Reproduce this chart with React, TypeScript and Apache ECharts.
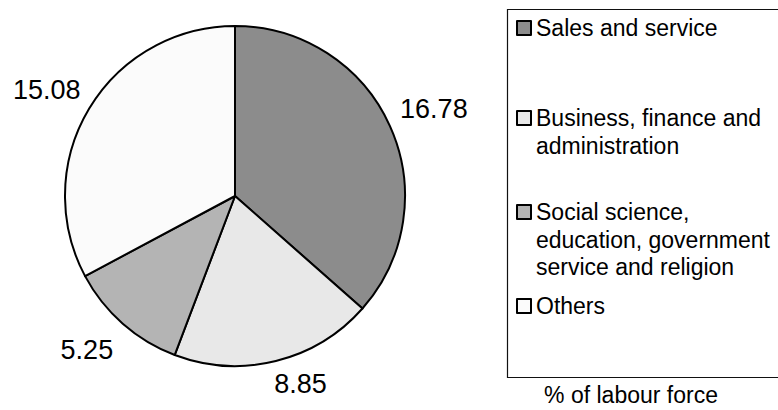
import React, { useEffect, useRef } from "react";
import * as echarts from "echarts";

const categories = [
  "Sales and service",
  "Business, finance and administration",
  "Social science, education, government service and religion",
  "Others",
];
const legendLines = [
  ["Sales and service"],
  ["Business, finance and", "administration"],
  ["Social science,", "education, government", "service and religion"],
  ["Others"],
];
const values = [16.78, 8.85, 5.25, 15.08];
const colors = ["#8c8c8c", "#e8e8e8", "#b4b4b4", "#fbfbfb"];
const labelOffsets: [number, number][] = [
  [-4, -12.5],
  [-9, 13],
  [2, 19],
  [5, -13.5],
];
const legendCenters = [28, 118, 212, 306];
const unitLabel = "% of labour force";

const FONT = "'Liberation Sans', Arial, sans-serif";
const LH = 27.5;

export default function App() {
  const ref = useRef<HTMLDivElement>(null);
  useEffect(() => {
    document.body.style.margin = "0";
    const chart = echarts.init(ref.current!, null, { renderer: "svg" });
    const legends = categories.map((name, i) => {
      const n = legendLines[i].length;
      return {
        orient: "vertical",
        left: 516,
        top: legendCenters[i] - (2 * n - 1) * (LH / 2),
        data: [name],
        icon: "rect",
        itemWidth: 14,
        itemHeight: 14,
        itemGap: 0,
        padding: 0,
        selectedMode: false,
        formatter: () => "\n".repeat(n - 1) + legendLines[i].join("\n"),
        textStyle: {
          fontFamily: FONT,
          fontSize: 23,
          color: "#000",
          lineHeight: LH,
        },
        itemStyle: { borderColor: "#000", borderWidth: 2 },
      };
    });
    chart.setOption({
      animation: false,
      backgroundColor: "#fff",
      color: colors,
      legend: legends,
      graphic: [
        {
          type: "rect",
          shape: { x: 507.5, y: 9.5, width: 320, height: 368 },
          style: { fill: "none", stroke: "#111", lineWidth: 1.2 },
        },
        {
          type: "text",
          x: 631,
          y: 395,
          style: {
            text: unitLabel,
            fontFamily: FONT,
            fontSize: 23,
            fill: "#000",
            align: "center",
            verticalAlign: "middle",
          },
        },
      ],
      series: [
        {
          type: "pie",
          center: [235, 196],
          radius: 170,
          startAngle: 90,
          clockwise: true,
          data: categories.map((name, i) => ({ name, value: values[i] })),
          itemStyle: { borderColor: "#000", borderWidth: 2 },
          label: {
            show: true,
            position: "outside",
            overflow: "none",
            formatter: (p: any) => p.value.toFixed(2),
            fontFamily: FONT,
            fontSize: 27,
            color: "#000",
          },
          labelLine: { show: false, length: 10, length2: 0 },
          labelLayout: (p: any) => ({
            dx: labelOffsets[p.dataIndex][0],
            dy: labelOffsets[p.dataIndex][1],
          }),
          emphasis: { disabled: true },
        },
      ],
    });
    return () => chart.dispose();
  }, []);
  return <div ref={ref} style={{ width: 778, height: 410 }} />;
}
